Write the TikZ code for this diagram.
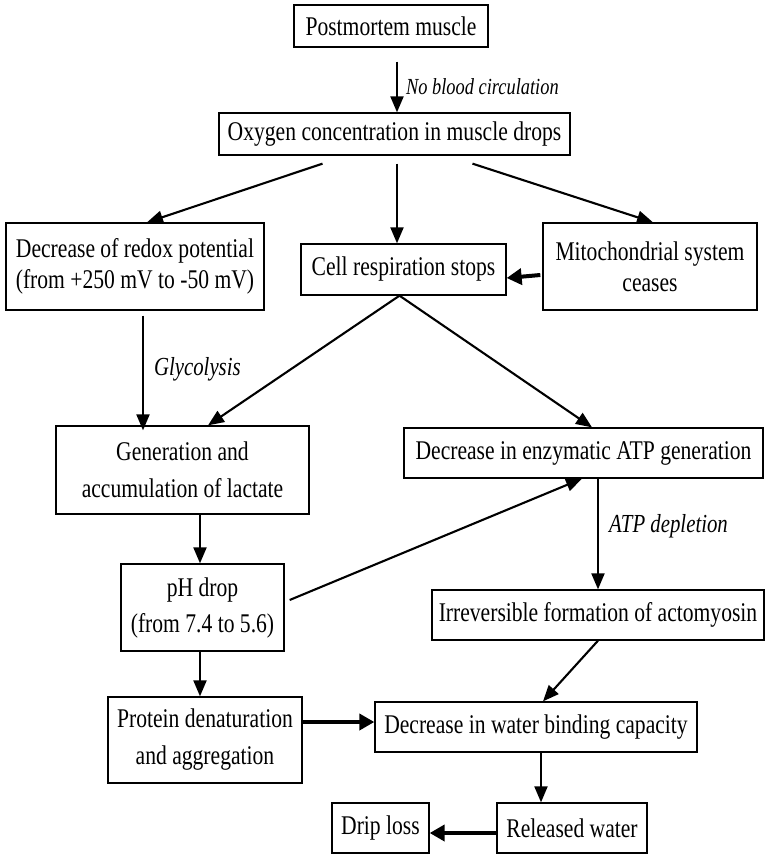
\documentclass[tikz,border=0pt]{standalone}
\usepackage{fontspec}
\setmainfont{Liberation Serif}[FakeStretch=0.8]
\usetikzlibrary{arrows.meta}
\begin{document}
\begin{tikzpicture}[x=1pt,y=-1pt,
  box/.style={draw=black,line width=1.3pt,inner sep=0pt,align=center,
    font=\fontsize{27}{31}\selectfont},
  flow/.style={line width=2.1pt,-{Triangle[length=16pt,width=13pt]}},
  heavy/.style={line width=4pt,-{Triangle[length=15pt,width=16pt]}},
  note/.style={font=\fontsize{26}{30}\selectfont\itshape,inner sep=0pt,anchor=west}]
\useasboundingbox (0,0) rectangle (767,856);

% boxes
\node[box,minimum width=194pt,minimum height=42pt] (post) at (391,26) {Postmortem muscle};
\node[box,minimum width=351pt,minimum height=42pt] (oxy) at (394.5,134) {Oxygen concentration in muscle drops};
\node[box,minimum width=258pt,minimum height=87pt] (redox) at (135,266.5) {Decrease of redox potential\\(from +250 mV to -50 mV)};
\node[box,minimum width=205pt,minimum height=51pt] (cell) at (403.5,269.5) {Cell respiration stops};
\node[box,minimum width=214pt,minimum height=87pt] (mito) at (650,266.5) {Mitochondrial system\\ceases};
\node[box,minimum width=253pt,minimum height=88pt] (gen) at (182.5,470) {Generation and\\[6pt]accumulation of lactate};
\node[box,minimum width=359pt,minimum height=50pt] (atp) at (583.5,453) {Decrease in enzymatic ATP generation};
\node[box,minimum width=163pt,minimum height=87pt] (ph) at (202.5,607.5) {pH drop\\[5pt](from 7.4 to 5.6)};
\node[box,minimum width=332pt,minimum height=50pt] (irr) at (598,615) {Irreversible formation of actomyosin};
\node[box,minimum width=194pt,minimum height=86pt] (prot) at (205,740) {Protein denaturation\\[6pt]and aggregation};
\node[box,minimum width=322pt,minimum height=50pt] (water) at (536,727) {Decrease in water binding capacity};
\node[box,minimum width=150pt,minimum height=50pt] (rel) at (572,828) {Released water};
\node[box,minimum width=97pt,minimum height=50pt] (drip) at (380.5,828) {Drip loss};

% connectors
\draw[flow] ([shift={(6,14)}]post.south) -- ([shift={(6,0)}]post.south |- oxy.north)
  node[note,midway,xshift=8pt,font=\fontsize{23}{26}\selectfont\itshape] {No blood circulation};
\draw[flow] ([shift={(-72,8)}]oxy.south) -- ([shift={(12,0)}]redox.north);
\draw[flow] ([shift={(2.5,8)}]oxy.south) -- ([shift={(2.5,0)}]oxy.south |- cell.north);
\draw[flow] ([shift={(78,8)}]oxy.south) -- ([shift={(3,0)}]mito.north);
\draw[heavy] ([shift={(-2,8.5)}]mito.west) -- ([shift={(0,8.5)}]cell.east);
\draw[flow] ([shift={(-4,0)}]cell.south) -- ([shift={(25.5,0)}]gen.north);
\draw[flow] ([shift={(-4,0)}]cell.south) -- ([shift={(8.5,0)}]atp.north);
\draw[flow] ([shift={(8,5)}]redox.south) -- ([shift={(8,5)}]redox.south |- gen.north)
  node[note,midway,xshift=10pt,yshift=4pt] {Glycolysis};
\draw[flow] ([shift={(17.5,0)}]gen.south) -- ([shift={(17.5,0)}]gen.south |- ph.north);
\draw[flow] ([shift={(5,-7.5)}]ph.east) -- ([shift={(-1.5,0)}]atp.south);
\draw[flow] ([shift={(14.5,0)}]atp.south) -- ([shift={(14.5,0)}]atp.south |- irr.north)
  node[note,midway,xshift=10pt,yshift=8pt] {ATP depletion};
\draw[flow] ([shift={(-2.5,0)}]ph.south) -- ([shift={(-2.5,0)}]ph.south |- prot.north);
\draw[flow] (irr.south) -- ([shift={(7,0)}]water.north);
\draw[heavy] ([shift={(0,-18)}]prot.east) -- ([shift={(0,-18)}]prot.east -| water.west);
\draw[flow] ([shift={(5,0)}]water.south) -- ([shift={(5,0)}]water.south |- rel.north);
\draw[heavy] ([shift={(0,5)}]rel.west) -- ([shift={(0,5)}]drip.east);
\end{tikzpicture}
\end{document}
